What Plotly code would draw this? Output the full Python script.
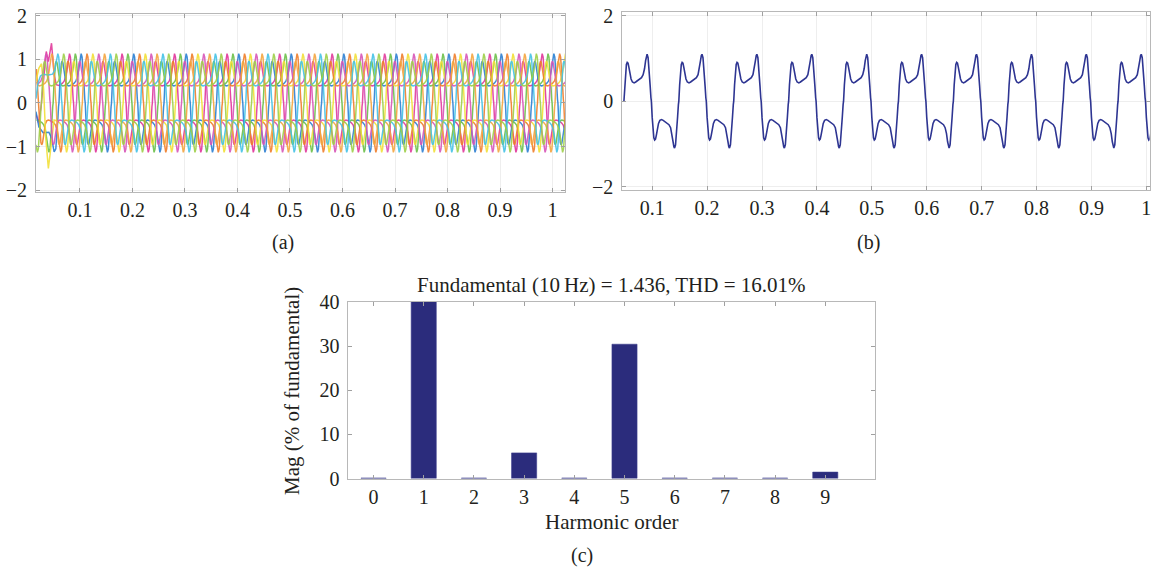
import plotly.graph_objects as go

# ---------------- data ----------------
PERIOD = 0.1  # s (10 Hz fundamental)

# One half-cycle (fraction of period after rising zero crossing, value)
tau_half = [0.000, 0.015, 0.030, 0.045, 0.060, 0.075, 0.090, 0.110, 0.130, 0.155, 0.185,
            0.215, 0.250, 0.285, 0.320, 0.350, 0.375, 0.395, 0.410, 0.422, 0.440, 0.460,
            0.478, 0.492]
b_half = [0.00, 0.38, 0.70, 0.86, 0.91, 0.89, 0.80, 0.64, 0.52, 0.45, 0.43,
          0.45, 0.48, 0.51, 0.55, 0.62, 0.76, 0.95, 1.07, 1.10, 1.02, 0.74,
          0.36, 0.08]
b_zero = 0.0485  # first rising zero crossing in panel (b)

# Phase-current half-cycle shape
a_half = [0.00, 0.40, 0.74, 0.91, 0.96, 0.92, 0.80, 0.62, 0.48, 0.41, 0.39,
          0.40, 0.42, 0.45, 0.50, 0.60, 0.76, 0.96, 1.09, 1.13, 1.05, 0.78,
          0.38, 0.08]
a_zero = 0.038  # rising zero of the first phase
a_delay = [0.0000, 0.0111, 0.0222, 0.0333, 0.0444, 0.0556, 0.0667, 0.0778, 0.0889]
a_colors = ['#e23b9c', '#6cc04a', '#2f80d3', '#f07f2c', '#f2e03a',
            '#d856b8', '#f4a640', '#45c3e6', '#9fd04a']

# start-up transients: phase index -> (times, values)
a_trans_t = {
    0: [0.0164, 0.021, 0.026, 0.031, 0.036, 0.040, 0.046, 0.051, 0.055],
    2: [0.0164, 0.022, 0.030, 0.036, 0.041, 0.046, 0.051],
    4: [0.0164, 0.022, 0.027, 0.031, 0.035, 0.040, 0.044, 0.048],
    7: [0.0164, 0.020, 0.025, 0.030, 0.040, 0.048, 0.052],
}
a_trans_v = {
    0: [-0.25, -0.45, -0.10, 0.55, 1.18, 0.95, 1.37, 0.65, 0.42],
    2: [-0.20, -0.55, -0.68, -0.68, -0.67, -0.80, -1.12],
    4: [0.50, 0.80, 0.90, 0.30, -0.80, -1.50, -1.10, -0.70],
    7: [0.10, 0.45, 0.62, 0.66, 0.64, 0.66, 0.75],
}

# panel (c) harmonic spectrum
harm_order = [0, 1, 2, 3, 4, 5, 6, 7, 8, 9]
harm_mag = [0.12, 100.0, 0.12, 5.8, 0.12, 30.4, 0.12, 0.12, 0.12, 1.45]
spec_title = "Fundamental (10\u2009Hz) = 1.436, THD = 16.01%"

time_ticks = [0.1, 0.2, 0.3, 0.4, 0.5, 0.6, 0.7, 0.8, 0.9, 1.0]
time_ticktext = ['0.1', '0.2', '0.3', '0.4', '0.5', '0.6', '0.7', '0.8', '0.9', '1']


def tile(zero, taus, half, t_from, t_to):
    ts, vs = [], []
    for k in range(-2, 13):
        for tau, v in zip(taus, half):
            ts.append(zero + (k + tau) * PERIOD)
            vs.append(v)
        for tau, v in zip(taus, half):
            ts.append(zero + (k + 0.5 + tau) * PERIOD)
            vs.append(-v)
    out_t, out_v = [], []
    for t, v in zip(ts, vs):
        if t_from <= t <= t_to:
            out_t.append(t)
            out_v.append(v)
    return out_t, out_v


FONT = 'Liberation Serif'
TXT = '#231f20'
H = 575.0


def py(img_y):
    # page y (px from top) that lands on the wanted picture row
    return (img_y - 12.0) / 0.958


def paper(img_y):
    return 1 - py(img_y) / H


fig = go.Figure()

# ---- panel (a) ----
for i, d in enumerate(a_delay):
    if i in a_trans_t:
        tt, tv = list(a_trans_t[i]), list(a_trans_v[i])
        st, sv = tile(a_zero + d, tau_half, a_half, tt[-1] + 0.002, 1.03)
        tt += st
        tv += sv
    else:
        tt, tv = tile(a_zero + d, tau_half, a_half, 0.0164, 1.03)
    fig.add_trace(go.Scatter(x=tt, y=tv, mode='lines',
                             line=dict(color=a_colors[i], width=1.5),
                             opacity=0.9, xaxis='x', yaxis='y', hoverinfo='skip'))

# ---- panel (b) ----
bt, bv = tile(b_zero, tau_half, b_half, b_zero, 1.01)
fig.add_trace(go.Scatter(x=bt, y=bv, mode='lines',
                         line=dict(color='#2e3592', width=1.6),
                         xaxis='x2', yaxis='y2', hoverinfo='skip'))

# ---- panel (c) ----
fig.add_trace(go.Bar(x=harm_order, y=harm_mag, width=0.5,
                     marker=dict(color='#2b2c7c', line=dict(color='#3b3c8c', width=0.6)),
                     xaxis='x3', yaxis='y3', hoverinfo='skip'))

common = dict(showline=True, linecolor='#b8b8b8', linewidth=1, mirror='ticks',
              ticks='inside', ticklen=4, tickcolor='#a0a0a0', zeroline=False,
              tickfont=dict(family=FONT, size=20, color=TXT))

fig.update_layout(
    width=1155, height=575,
    margin=dict(l=0, r=0, t=0, b=0),
    paper_bgcolor='white', plot_bgcolor='white',
    showlegend=False,
    xaxis=dict(domain=[0.0312, 0.4900], range=[0.0164, 1.0236], tickvals=time_ticks,
               ticktext=time_ticktext, showgrid=True, gridcolor='#eeeeee',
               anchor='y', **common),
    yaxis=dict(domain=[paper(192.7), paper(15)], range=[-2.05, 2.04],
               tickvals=[-2, -1, 0, 1, 2],
               showgrid=True, gridcolor='#eeeeee', anchor='x', ticklabelstandoff=4,
               **common),
    xaxis2=dict(domain=[0.5397, 0.9971], range=[0.0455, 1.006], tickvals=time_ticks,
                ticktext=time_ticktext, showgrid=True, gridcolor='#eeeeee',
                anchor='y2', **common),
    yaxis2=dict(domain=[paper(190.7), paper(13)], range=[-2.09, 2.09], tickvals=[-2, 0, 2],
                showgrid=True, gridcolor='#eeeeee', anchor='x2', ticklabelstandoff=4,
                **common),
    xaxis3=dict(domain=[0.3022, 0.7593], range=[-0.5, 10], tickvals=harm_order,
                showgrid=False, anchor='y3', **common),
    yaxis3=dict(domain=[paper(477.7), paper(301.7)], range=[0, 40],
                tickvals=[0, 10, 20, 30, 40],
                showgrid=False, anchor='x3', ticklabelstandoff=4, **common),
)

ann = [
    dict(text='(a)', x=283 / 1155, y=paper(243), size=20, ya='middle', ys=0),
    dict(text='(b)', x=870 / 1155, y=paper(243), size=20, ya='middle', ys=0),
    dict(text='(c)', x=583 / 1155, y=0.0, size=20, ya='bottom', ys=-5),
    dict(text=spec_title, x=613 / 1155, y=paper(285), size=21, ya='middle', ys=0),
    dict(text='Harmonic order', x=613 / 1155, y=paper(521), size=21, ya='middle', ys=0),
]
for a in ann:
    fig.add_annotation(text=a['text'], x=a['x'], y=a['y'], xref='paper', yref='paper',
                       showarrow=False, xanchor='center', yanchor=a['ya'], yshift=a['ys'],
                       font=dict(family=FONT, size=a['size'], color=TXT))
fig.add_annotation(text='Mag (% of fundamental)', x=293 / 1155, y=paper(390),
                   xref='paper', yref='paper', showarrow=False, textangle=-90,
                   xanchor='center', yanchor='middle',
                   font=dict(family=FONT, size=21, color=TXT))

fig.write_html("out.html", config={'displayModeBar': False},
               post_script="document.body.style.margin='0px';")
